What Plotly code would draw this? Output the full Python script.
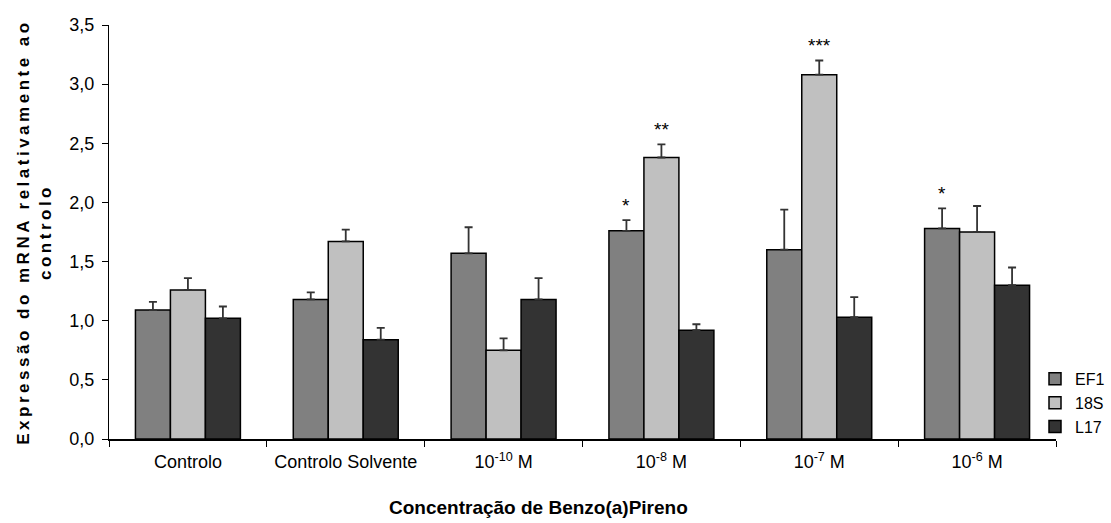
import plotly.graph_objects as go

# Expression data (mean and error) for each reference gene and treatment
categories = ["Controlo", "Controlo Solvente", "10<sup>-10</sup> M",
              "10<sup>-8</sup> M", "10<sup>-7</sup> M", "10<sup>-6</sup> M"]
ef1 = [1.09, 1.18, 1.57, 1.76, 1.60, 1.78]
ef1_err = [0.07, 0.06, 0.22, 0.09, 0.34, 0.17]
s18 = [1.26, 1.67, 0.75, 2.38, 3.08, 1.75]
s18_err = [0.10, 0.10, 0.10, 0.11, 0.12, 0.22]
l17 = [1.02, 0.84, 1.18, 0.92, 1.03, 1.30]
l17_err = [0.10, 0.10, 0.18, 0.05, 0.17, 0.15]

# Significance marks: (series index, category index, label)
marks = [(0, 3, "*"), (1, 3, "**"), (1, 4, "***"), (0, 5, "*")]

series = [("EF1", ef1, ef1_err, "#808080"),
          ("18S", s18, s18_err, "#c0c0c0"),
          ("L17", l17, l17_err, "#333333")]

W, H = 1111, 523
ML, MR, MT, MB = 109, 55, 25, 84
BARGAP = 0.335
FONT = "Liberation Sans, Arial, sans-serif"

fig = go.Figure()
for name, vals, errs, col in series:
    fig.add_trace(go.Bar(
        name=name, x=categories, y=vals,
        marker=dict(color=col, line=dict(color="#000000", width=1.5)),
        error_y=dict(type="data", array=errs, visible=True, symmetric=False,
                     color="#333333", thickness=1.8, width=4),
    ))

# pixel offset of each bar inside a category group
plot_w = W - ML - MR
cat_w = plot_w / len(categories)
bar_w = cat_w * (1 - BARGAP) / len(series)
for si, ci, label in marks:
    _, vals, errs, _ = series[si]
    fig.add_annotation(
        x=categories[ci], y=vals[ci] + errs[ci], xref="x", yref="y",
        text=label, showarrow=False, yanchor="bottom", yshift=2,
        xshift=(si - 1) * bar_w,
        font=dict(family=FONT, size=19, color="#000000"),
    )

# x-axis title, centred slightly left of the plot centre
fig.add_annotation(
    x=(538 - ML) / plot_w, y=0, xref="paper", yref="paper",
    yanchor="top", xanchor="center", yshift=-56, showarrow=False,
    text="<b>Concentração de Benzo(a)Pireno</b>",
    font=dict(family=FONT, size=19, color="#000000"),
)

fig.update_layout(
    width=W, height=H,
    margin=dict(l=ML, r=MR, t=MT, b=MB, pad=0, autoexpand=False),
    barmode="group", bargap=BARGAP, bargroupgap=0,
    plot_bgcolor="#ffffff", paper_bgcolor="#ffffff",
    separators=",.",
    font=dict(family=FONT, size=18, color="#000000"),
    showlegend=True,
    legend=dict(x=(1035 - ML) / plot_w, xanchor="left", y=-0.012, yanchor="bottom",
                xref="paper", yref="paper",
                font=dict(family=FONT, size=16, color="#000000"),
                itemwidth=30, tracegroupgap=0,
                bgcolor="rgba(0,0,0,0)", borderwidth=0),
    xaxis=dict(
        showline=True, linecolor="#000000", linewidth=1.5,
        ticks="outside", tickson="boundaries", ticklen=6, tickcolor="#000000",
        tickfont=dict(family=FONT, size=18), ticklabelstandoff=6,
        tickangle=0, automargin=False,
        showgrid=False,
    ),
    yaxis=dict(
        range=[0, 3.5], dtick=0.5, tickformat=".1f",
        showline=True, linecolor="#000000", linewidth=1.2,
        ticks="outside", ticklen=6, tickcolor="#000000",
        tickfont=dict(family=FONT, size=18), ticklabelstandoff=4,
        automargin=False,
        title=dict(text="<b><span style=\"letter-spacing:3.5px\">Expressão do mRNA relativamente ao<br>controlo</span></b>",
                   font=dict(family=FONT, size=17), standoff=13),
        showgrid=False, zeroline=False,
    ),
)

fig.write_html("out.html")
